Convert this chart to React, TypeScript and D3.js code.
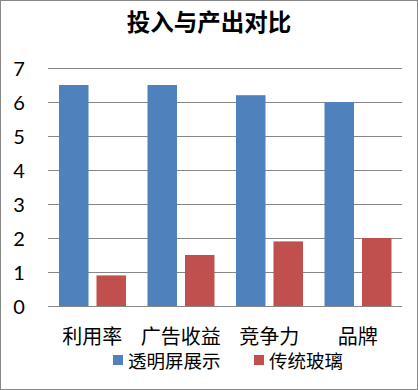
import React from 'react';
import * as d3 from 'd3';

const categories = ['利用率', '广告收益', '竞争力', '品牌'];
const seriesNames = ['透明屏展示', '传统玻璃'];
const displayValues = [6.5, 6.5, 6.2, 6.0];
const glassValues = [0.9, 1.5, 1.9, 2.0];
const yTicks = [0, 1, 2, 3, 4, 5, 6, 7];
const colors = ['#4F81BD', '#C0504D'];

const W = 418;
const H = 390;
const plot = {left: 48, right: 402, top: 68, bottom: 306};

const App: React.FC = () => {
  const x = d3.scaleBand<string>()
      .domain(categories)
      .range([plot.left, plot.right])
      .padding(0);
  const xInner = d3.scaleBand<string>()
      .domain(seriesNames)
      .range([11, 78])
      .paddingInner(0.213)
      .paddingOuter(0);
  const y = d3.scaleLinear().domain([0, 7]).range([plot.bottom, plot.top]);
  const series = [displayValues, glassValues];

  const cjk = '"Noto Sans CJK SC", sans-serif';

  return (
    <svg width={W} height={H}
         style={{position: 'absolute', left: 0, top: 0, background: '#fff'}}>
      <rect x={0.5} y={0.5} width={W - 1} height={H - 1} fill="#fff"
            stroke="#888" strokeWidth={1}/>
      <text x={209} y={25} textAnchor="middle" dominantBaseline="middle"
            fontFamily={cjk} fontWeight="bold" fontSize={23.5} fill="#000">
        投入与产出对比
      </text>

      {yTicks.map((t) => (
        <g key={t}>
          <line x1={plot.left} x2={plot.right}
                y1={Math.round(y(t)) + 0.5} y2={Math.round(y(t)) + 0.5}
                stroke="#868686" strokeWidth={1}/>
          <text x={19} y={y(t)} textAnchor="middle" dominantBaseline="central"
                fontFamily="Lato, 'Open Sans', sans-serif" fontSize={20} fill="#000">
            {t}
          </text>
        </g>
      ))}

      {categories.map((c, i) => (
        <g key={c} transform={`translate(${x(c)},0)`}>
          {seriesNames.map((s, j) => (
            <rect key={s} x={xInner(s)} width={xInner.bandwidth()}
                  y={y(series[j][i])} height={y(0) - y(series[j][i])}
                  fill={colors[j]}/>
          ))}
        </g>
      ))}

      {categories.map((c) => (
        <text key={c} x={(x(c) as number) + x.bandwidth() / 2} y={335}
              textAnchor="middle" dominantBaseline="central"
              fontFamily={cjk} fontSize={20} fill="#000">
          {c}
        </text>
      ))}

      <g>
        <rect x={113} y={355} width={10} height={10} fill={colors[0]}/>
        <text x={128} y={360} dominantBaseline="central" fontFamily={cjk}
              fontSize={18.5} fill="#000">{seriesNames[0]}</text>
        <rect x={254} y={355} width={10} height={10} fill={colors[1]}/>
        <text x={269} y={360} dominantBaseline="central" fontFamily={cjk}
              fontSize={18.5} fill="#000">{seriesNames[1]}</text>
      </g>
    </svg>
  );
};

export default App;
